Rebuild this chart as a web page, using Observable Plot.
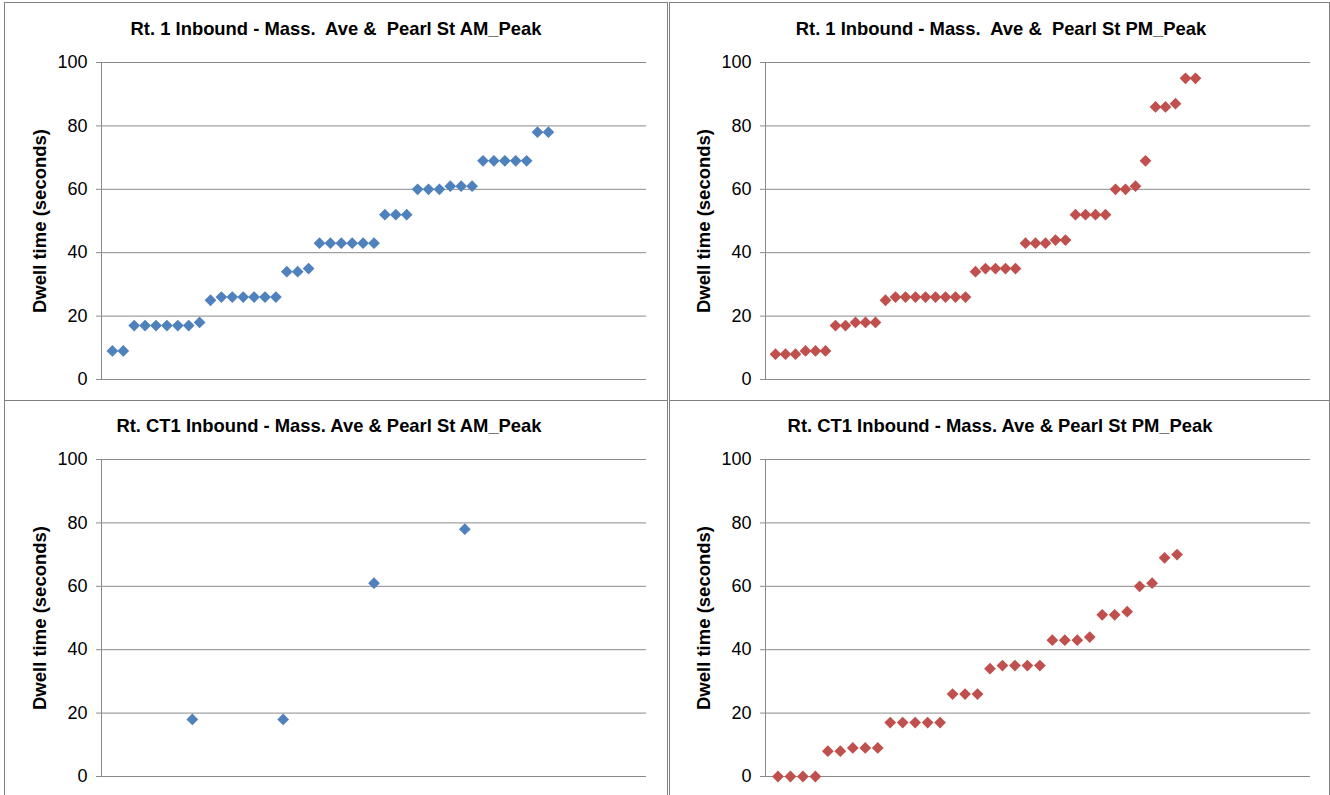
<!DOCTYPE html>
<html>
<head>
<meta charset="utf-8">
<script src="https://cdn.jsdelivr.net/npm/d3@7"></script>
<script src="https://cdn.jsdelivr.net/npm/@observablehq/plot@0.6"></script>
<style>
  html, body { margin: 0; padding: 0; background: #fff; width: 1330px; height: 795px; overflow: hidden; }
  .panel { position: absolute; border: 1px solid #808080; background: #fff; overflow: hidden; }
  .panel svg { display: block; }
</style>
</head>
<body>
<div id="p1" class="panel" style="left:4px; top:2px; width:662px; height:397px;"></div>
<div id="p2" class="panel" style="left:669px; top:2px; width:659px; height:397px;"></div>
<div id="p3" class="panel" style="left:4px; top:400px; width:662px; height:400px;"></div>
<div id="p4" class="panel" style="left:669px; top:400px; width:659px; height:400px;"></div>
<script>
// ---- data ----
const yTicks = [0, 20, 40, 60, 80, 100];
const yLabel = "Dwell time (seconds)";

const titleRt1AM = "Rt. 1 Inbound - Mass.  Ave &  Pearl St AM_Peak";
const titleRt1PM = "Rt. 1 Inbound - Mass.  Ave &  Pearl St PM_Peak";
const titleCT1AM = "Rt. CT1 Inbound - Mass. Ave & Pearl St AM_Peak";
const titleCT1PM = "Rt. CT1 Inbound - Mass. Ave & Pearl St PM_Peak";

const rt1AM = [9,9,17,17,17,17,17,17,18,25,26,26,26,26,26,26,34,34,35,43,43,43,43,43,43,52,52,52,60,60,60,61,61,61,69,69,69,69,69,78,78];
const rt1PM = [8,8,8,9,9,9,17,17,18,18,18,25,26,26,26,26,26,26,26,26,34,35,35,35,35,43,43,43,44,44,52,52,52,52,60,60,61,69,86,86,87,95,95];
const ct1AM = [18,18,61,78];
const ct1PM = [0,0,0,0,8,8,9,9,9,17,17,17,17,17,26,26,26,34,35,35,35,35,43,43,43,44,51,51,52,60,61,69,70];

const blue = "#4F81BD";
const red = "#C0504D";
const gridColor = "#8a8a8a";
const font = "'Liberation Sans', Arial, sans-serif";

function panel(el, {values, title, color, xMax, width, height, mLeft, mRight, mTop, mBottom, titleDx}) {
  const data = values.map((v, i) => ({i: i + 1, v}));
  const chart = Plot.plot({
    width, height,
    marginLeft: mLeft, marginRight: mRight, marginTop: mTop, marginBottom: mBottom,
    style: {fontFamily: font, fontSize: "18px", color: "#000", background: "transparent", overflow: "visible"},
    x: {domain: [0, xMax], axis: null},
    y: {domain: [0, 100], axis: null},
    marks: [
      Plot.gridY(yTicks, {stroke: gridColor, strokeOpacity: 1, strokeWidth: 1}),
      Plot.axisY(yTicks, {tickSize: 5, tickPadding: 9, stroke: gridColor, fill: "#000", fontSize: 18, label: null}),
      Plot.ruleX([0], {stroke: gridColor, strokeWidth: 1}),
      Plot.dot(data, {x: "i", y: "v", symbol: "diamond2", r: 5.3, fill: color, stroke: "none"}),
      Plot.text([title], {frameAnchor: "top", textAnchor: "middle", dx: titleDx, dy: -33, fontWeight: "bold", fontSize: 18.4, fill: "#000", text: d => d, lineAnchor: "middle"}),
      Plot.text([yLabel], {frameAnchor: "left", textAnchor: "middle", dx: -61, rotate: -90, fontWeight: "bold", fontSize: 18.5, fill: "#000", text: d => d, lineAnchor: "middle"})
    ]
  });
  chart.querySelectorAll("text").forEach(t => t.style.whiteSpace = "pre");
  document.getElementById(el).appendChild(chart);
}

panel("p1", {values: rt1AM, title: titleRt1AM, color: blue, xMax: 50, width: 662, height: 397, mLeft: 96, mRight: 21, mTop: 59, mBottom: 21, titleDx: -38});
panel("p2", {values: rt1PM, title: titleRt1PM, color: red, xMax: 54.5, width: 659, height: 397, mLeft: 95, mRight: 19, mTop: 59, mBottom: 21, titleDx: -37});
panel("p3", {values: ct1AM, title: titleCT1AM, color: blue, xMax: 6, width: 662, height: 400, mLeft: 96, mRight: 21, mTop: 58, mBottom: 25, titleDx: -45});
panel("p4", {values: ct1PM, title: titleCT1PM, color: red, xMax: 43.7, width: 659, height: 400, mLeft: 95, mRight: 19, mTop: 58, mBottom: 25, titleDx: -38});
</script>
</body>
</html>
